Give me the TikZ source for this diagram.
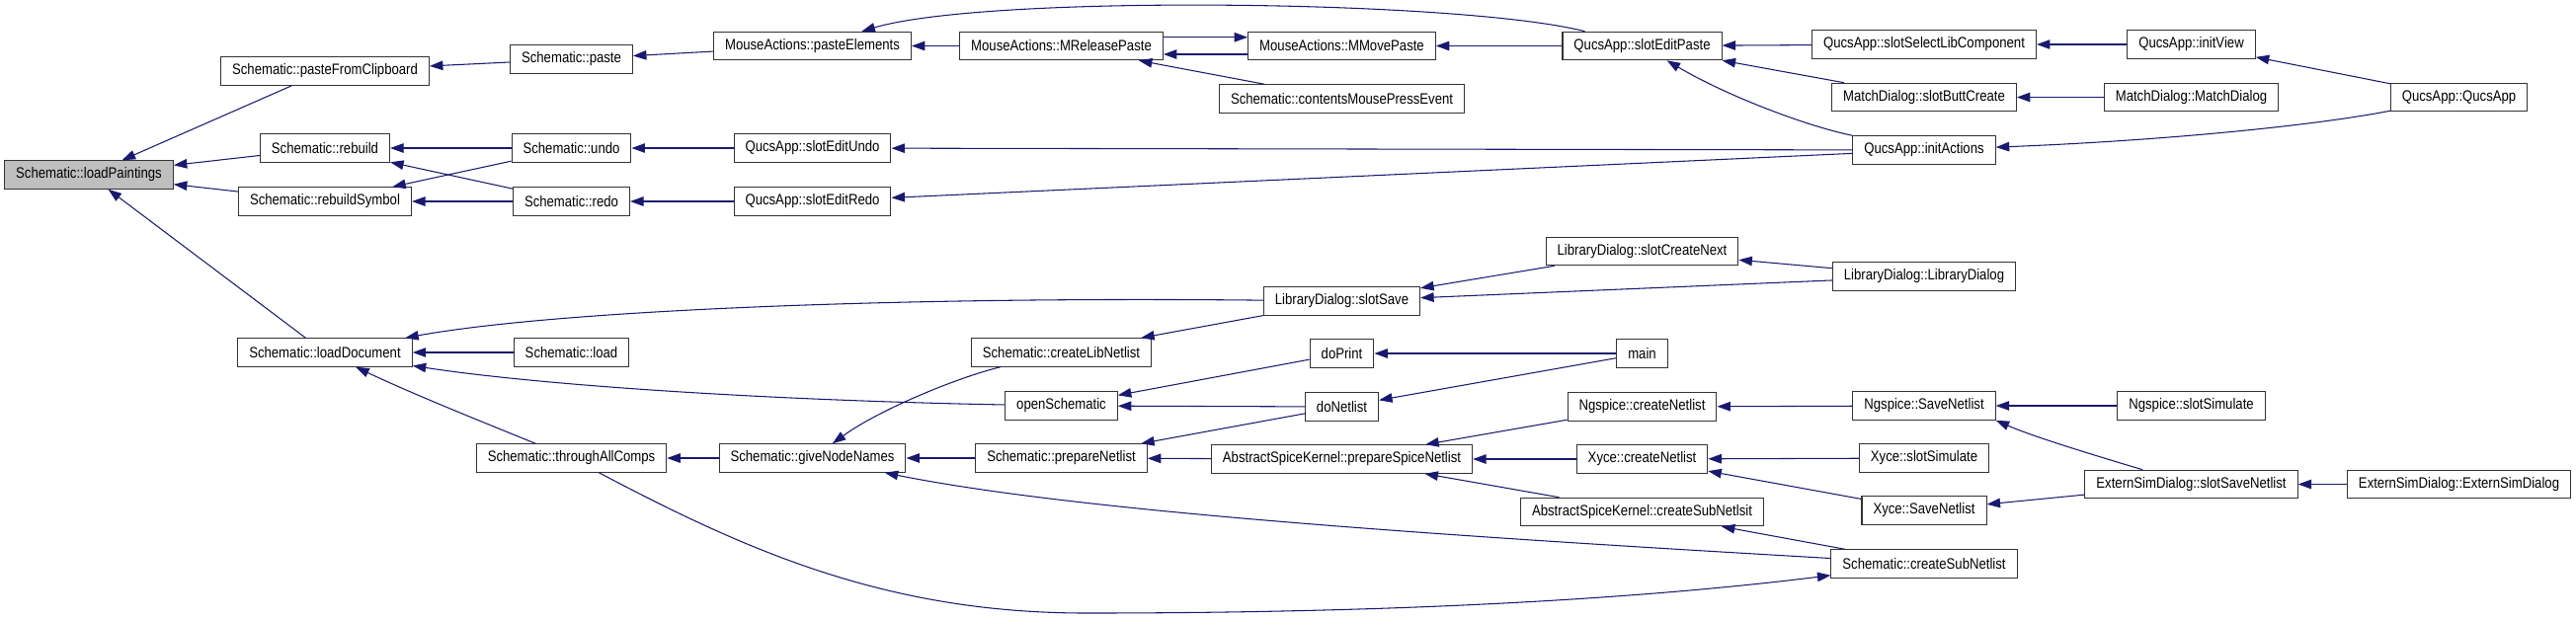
\documentclass[tikz,border=0pt]{standalone}
\usepackage{fontspec}
\setmainfont{Liberation Sans}[FakeStretch=0.86]
\usetikzlibrary{arrows.meta}
\definecolor{edgeblue}{HTML}{191970}
\definecolor{rootgray}{HTML}{BFBFBF}

\begin{document}
\begin{tikzpicture}[
    x=0.02cm, y=-0.02cm,
    >={Triangle[length=2.7mm, width=1.9mm]},
    fn/.style={
        draw=black!80,
        line width=0.6pt,
        fill=white,
        rectangle,
        minimum height=5.7mm,
        inner xsep=2.3mm,
        inner ysep=0pt,
        font=\fontsize{8.7pt}{10pt}\selectfont
    },
    call/.style={
        draw=edgeblue,
        line width=0.6pt,
        ->
    }
]
\useasboundingbox (0,0) rectangle (2608,627);

% =====================
% FUNZIONI
% =====================
\node[fn, fill=rootgray] at (90,177) (lpaint) {Schematic::loadPaintings};

\node[fn] at (329,72) (pfc) {Schematic::pasteFromClipboard};
\node[fn] at (329,150) (rebuild) {Schematic::rebuild};
\node[fn] at (329,204) (rebsym) {Schematic::rebuildSymbol};
\node[fn] at (329,357) (loaddoc) {Schematic::loadDocument};

\node[fn] at (578.5,60) (paste) {Schematic::paste};
\node[fn] at (578.5,150) (undo) {Schematic::undo};
\node[fn] at (578.5,204) (redo) {Schematic::redo};
\node[fn] at (578.5,357) (load) {Schematic::load};
\node[fn] at (578.5,464) (thrall) {Schematic::throughAllComps};

\node[fn] at (822.5,46.5) (pasteel) {MouseActions::pasteElements};
\node[fn] at (822.5,150) (seundo) {QucsApp::slotEditUndo};
\node[fn] at (822.5,204) (seredo) {QucsApp::slotEditRedo};
\node[fn] at (822.5,464) (givenn) {Schematic::giveNodeNames};

\node[fn] at (1074.5,46.5) (mrelp) {MouseActions::MReleasePaste};
\node[fn] at (1074.5,357) (clibnl) {Schematic::createLibNetlist};
\node[fn] at (1074.5,411) (opensch) {openSchematic};
\node[fn] at (1074.5,464) (prepnl) {Schematic::prepareNetlist};

\node[fn] at (1358.5,46.5) (mmovep) {MouseActions::MMovePaste};
\node[fn] at (1358.5,100) (cmpe) {Schematic::contentsMousePressEvent};
\node[fn] at (1358.5,305) (slotsave) {LibraryDialog::slotSave};
\node[fn] at (1358.5,358) (doprint) {doPrint};
\node[fn] at (1358.5,412) (donetlist) {doNetlist};
\node[fn] at (1358.5,465) (prepspice) {AbstractSpiceKernel::prepareSpiceNetlist};

\node[fn] at (1662.5,46.5) (sepaste) {QucsApp::slotEditPaste};
\node[fn] at (1662.5,254.5) (createnext) {LibraryDialog::slotCreateNext};
\node[fn] at (1662.5,358) (main) {main};
\node[fn] at (1662.5,412) (ngcreate) {Ngspice::createNetlist};
\node[fn] at (1662.5,465) (xycreate) {Xyce::createNetlist};
\node[fn] at (1662.5,518.5) (askcsub) {AbstractSpiceKernel::createSubNetlsit};

\node[fn] at (1948,45) (sslc) {QucsApp::slotSelectLibComponent};
\node[fn] at (1948,98.5) (sbutt) {MatchDialog::slotButtCreate};
\node[fn] at (1948,152) (initact) {QucsApp::initActions};
\node[fn] at (1948,280) (libdlg) {LibraryDialog::LibraryDialog};
\node[fn] at (1948,411) (ngsave) {Ngspice::SaveNetlist};
\node[fn] at (1948,464) (xysim) {Xyce::slotSimulate};
\node[fn] at (1948,517) (xysave) {Xyce::SaveNetlist};
\node[fn] at (1948,571) (schcsub) {Schematic::createSubNetlist};

\node[fn] at (2218.5,45) (initview) {QucsApp::initView};
\node[fn] at (2218.5,98.5) (matchdlg) {MatchDialog::MatchDialog};
\node[fn] at (2218.5,411) (ngsim) {Ngspice::slotSimulate};
\node[fn] at (2218.5,490.5) (essave) {ExternSimDialog::slotSaveNetlist};

\node[fn] at (2489.5,98.5) (qucsapp) {QucsApp::QucsApp};
\node[fn] at (2489.5,490.5) (esdlg) {ExternSimDialog::ExternSimDialog};

% =====================
% CHIAMATE
% =====================

% verso loadPaintings
\path (pfc) edge[call] (lpaint);
\path (rebuild) edge[call] (lpaint);
\path (rebsym) edge[call] (lpaint);
\path (loaddoc) edge[call] (lpaint);

% colonna 1
\path (paste) edge[call] (pfc);
\path (undo) edge[call] (rebuild);
\path (redo) edge[call] (rebuild);
\path (undo) edge[call] (rebsym);
\path (redo) edge[call] (rebsym);
\path (load) edge[call] (loaddoc);
\draw[call] (slotsave) .. controls (900,300) and (560,315) .. (loaddoc);
\draw[call] (opensch) .. controls (800,406) and (560,392) .. (loaddoc);
\draw[call] (thrall) .. controls (490,428) and (420,400) .. (loaddoc);

% colonna 2
\path (pasteel) edge[call] (paste);
\path (seundo) edge[call] (undo);
\path (seredo) edge[call] (redo);
\path (givenn) edge[call] (thrall);

% colonna 3
\path (mrelp) edge[call] (pasteel);
\draw[call] (sepaste) .. controls (1480,0) and (1000,-6) .. (pasteel);
\path (initact) edge[call] (seundo);
\path (initact) edge[call] (seredo);
\path (prepnl) edge[call] (givenn);
\draw[call] (clibnl) .. controls (970,382) and (890,415) .. (givenn);
\draw[call] (schcsub) .. controls (1500,545) and (1100,520) .. (givenn);

% throughAllComps -> createSubNetlist (ritorno)
\draw[call] (thrall) .. controls (760,560) and (900,621) .. (1100,621)
    .. controls (1400,621) and (1650,608) .. (schcsub);

% colonna 4
\path ([yshift=1.75mm]mrelp.east) edge[call] ([yshift=1.75mm]mmovep.west);
\path ([yshift=-1.7mm]mmovep.west) edge[call] ([yshift=-1.7mm]mrelp.east);
\path (cmpe) edge[call] (mrelp);
\path (slotsave) edge[call] (clibnl);
\path (doprint) edge[call] (opensch);
\path (donetlist) edge[call] (opensch);
\path (donetlist) edge[call] (prepnl);
\path (prepspice) edge[call] (prepnl);

% colonna 5
\path (sepaste) edge[call] (mmovep);
\path (createnext) edge[call] (slotsave);
\path (libdlg) edge[call] (slotsave);
\path (main) edge[call] (doprint);
\path (main) edge[call] (donetlist);
\path (ngcreate) edge[call] (prepspice);
\path (xycreate) edge[call] (prepspice);
\path (askcsub) edge[call] (prepspice);

% colonna 6
\path (sslc) edge[call] (sepaste);
\path (sbutt) edge[call] (sepaste);
\draw[call] (initact) .. controls (1830,128) and (1750,98) .. (sepaste);
\path (libdlg) edge[call] (createnext);
\path (ngsave) edge[call] (ngcreate);
\path (xysim) edge[call] (xycreate);
\path (xysave) edge[call] (xycreate);
\path (schcsub) edge[call] (askcsub);

% colonna 7
\path (initview) edge[call] (sslc);
\path (matchdlg) edge[call] (sbutt);
\draw[call] (qucsapp) .. controls (2350,126) and (2200,142) .. (initact);
\path (ngsim) edge[call] (ngsave);
\draw[call] (essave) .. controls (2130,464) and (2060,443) .. (ngsave.south east);
\path (essave) edge[call] (xysave);

% colonna 8
\path (qucsapp) edge[call] (initview);
\path (esdlg) edge[call] (essave);

\end{tikzpicture}
\end{document}
